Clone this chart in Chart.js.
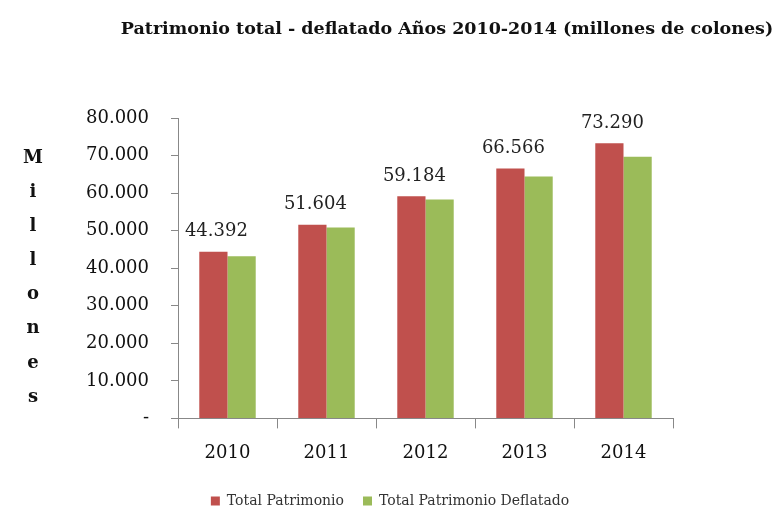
<!DOCTYPE html>
<html>
<head>
<meta charset="utf-8">
<script src="https://cdn.jsdelivr.net/npm/chart.js@4"></script>
<style>
	html, body { margin: 0; padding: 0; background: #fff; }
	#wrap { width: 780px; height: 510px; }
</style>
</head>
<body>
<div id="wrap"><canvas id="patrimonio-chart" width="780" height="510"></canvas></div>
<script>
const years = ['2010', '2011', '2012', '2013', '2014'];
const totalPatrimonio = [44392, 51604, 59184, 66566, 73290];
const totalDeflatado = [43200, 50850, 58300, 64400, 69700];
const titleText = 'Patrimonio total - deflatado Años 2010-2014 (millones de colones)';
const axisLetters = ['M', 'i', 'l', 'l', 'o', 'n', 'e', 's'];

const serif = '"DejaVu Serif", "Liberation Serif", serif';

function formatMiles(v) {
	if (v === 0) return '-';
	return Math.round(v).toString().replace(/\B(?=(\d{3})+(?!\d))/g, '.');
}

// titulo, letras verticales y etiquetas sobre las barras rojas
const decorations = {
	id: 'decorations',
	afterDraw(chart) {
		const ctx = chart.ctx;
		ctx.save();
		ctx.fillStyle = '#111';
		ctx.textAlign = 'center';
		ctx.textBaseline = 'middle';
		ctx.font = 'bold 17.5px ' + serif;
		ctx.fillText(titleText, 447, 29);

		ctx.font = 'bold 18px ' + serif;
		const step = (397 - 158) / (axisLetters.length - 1);
		axisLetters.forEach((l, i) => ctx.fillText(l, 33, 158 + i * step));

		ctx.font = '18px ' + serif;
		ctx.fillStyle = '#222';
		ctx.textBaseline = 'bottom';
		chart.getDatasetMeta(0).data.forEach((bar, i) => {
			ctx.fillText(formatMiles(totalPatrimonio[i]), bar.x + 3, bar.y - 11);
		});
		ctx.restore();
	}
};

new Chart(
	document.getElementById('patrimonio-chart'),
	{
		type: 'bar',
		data: {
			labels: years,
			datasets: [
				{
					label: 'Total Patrimonio',
					data: totalPatrimonio,
					backgroundColor: '#C0504D',
				},
				{
					label: 'Total Patrimonio Deflatado',
					data: totalDeflatado,
					backgroundColor: '#9BBB59',
				},
			]
		},
		options: {
			responsive: false,
			animation: false,
			categoryPercentage: 0.57,
			barPercentage: 1,
			layout: {
				padding: { top: 118, right: 0, left: 0, bottom: -8 },
			},
			plugins: {
				legend: {
					position: 'bottom',
					labels: {
						boxWidth: 9,
						boxHeight: 9,
						padding: 19,
						color: '#333',
						font: { family: serif, size: 14 },
					},
				},
				tooltip: { enabled: false },
			},
			scales: {
				x: {
					afterFit(scale) { scale.height -= 3; },
					grid: {
						display: true,
						drawOnChartArea: false,
						drawTicks: true,
						tickLength: 10,
						color: '#888',
					},
					border: { color: '#888' },
					ticks: {
						color: '#111',
						padding: 14,
						font: { family: serif, size: 18 },
					},
				},
				y: {
					min: 0,
					max: 80000,
					afterFit(scale) { scale.width = 178; },
					grid: {
						display: true,
						drawOnChartArea: false,
						tickLength: 7,
						color: '#888',
					},
					border: { color: '#888' },
					ticks: {
						stepSize: 10000,
						color: '#111',
						padding: 22,
						font: { family: serif, size: 18 },
						callback: (v) => formatMiles(v),
					},
				},
				// espacio vacio a la derecha del grafico
				derecha: {
					type: 'linear',
					position: 'right',
					afterFit(scale) { scale.width = 107; },
					grid: { display: false },
					border: { display: false },
					ticks: { display: false },
				},
			}
		},
		plugins: [decorations],
	}
);
</script>
</body>
</html>
